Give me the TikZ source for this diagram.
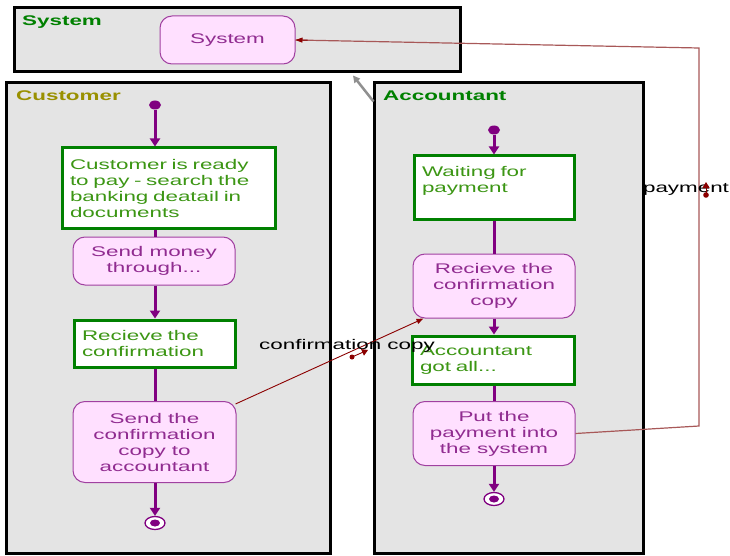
\documentclass[tikz,border=0pt]{standalone}
\usepackage{fontspec}
\setmainfont{Liberation Sans}[FakeStretch=1.6]
\usetikzlibrary{arrows.meta,shapes.geometric,calc}
\definecolor{lanefill}{HTML}{E4E4E4}
\definecolor{boxgreen}{HTML}{008000}
\definecolor{gtext}{HTML}{3C9614}
\definecolor{flowpurple}{HTML}{800080}
\definecolor{pinkfill}{HTML}{FFE0FF}
\definecolor{pinkdraw}{HTML}{A040A0}
\definecolor{ptext}{HTML}{902C90}
\definecolor{olive}{HTML}{999000}
\definecolor{darkred}{HTML}{8B0000}
\definecolor{payred}{HTML}{A85858}
\definecolor{grayarrow}{HTML}{909090}
\begin{document}
\begin{tikzpicture}[x=1pt,y=-1pt,
  font=\fontsize{14}{16}\selectfont,
  lane/.style={draw=black, line width=3pt, fill=lanefill, inner sep=0pt},
  lanelabel/.style={font=\fontsize{14}{16}\selectfont\bfseries, anchor=west, inner sep=0pt},
  act/.style={draw=pinkdraw, line width=1pt, fill=pinkfill, rounded corners=12pt, text=ptext, align=center, inner sep=0pt},
  statebox/.style={draw=boxgreen, line width=3pt, fill=white, text=gtext, align=left, inner xsep=8pt, inner ysep=0pt},
  startdot/.style={ellipse, fill=flowpurple, minimum width=12pt, minimum height=9pt, inner sep=0pt},
  enddot/.style={ellipse, draw=flowpurple, line width=1.3pt, fill=white, minimum width=20pt, minimum height=13pt, inner sep=0pt},
  enddotin/.style={ellipse, fill=flowpurple, minimum width=10pt, minimum height=7pt, inner sep=0pt},
  flow/.style={draw=flowpurple, line width=3pt},
  flowarrow/.style={flow, -{Triangle[length=8pt,width=10pt]}},
  conf/.style={draw=darkred, line width=0.9pt, -{Triangle[length=7pt,width=5pt]}},
  paycon/.style={draw=payred, line width=1.2pt},
  edgelabel/.style={text=black, inner sep=0pt}
]
\useasboundingbox (0,0) rectangle (730,556);
\fill[white] (0,0) rectangle (730,556);

% frames
\node[lane, minimum width=446pt, minimum height=64pt] (sysF) at (237,40) {};
\node[lane, minimum width=324pt, minimum height=470pt] (custF) at (168,318) {};
\node[lane, minimum width=269pt, minimum height=470pt] (accF) at (508.5,318) {};

\node[lanelabel, text=boxgreen] (sysL) at (22,22) {System};
\node[lanelabel, text=olive] (custL) at (16,96) {Customer};
\node[lanelabel, text=boxgreen] (accL) at (383,96) {Accountant};

% system node
\node[act, minimum width=135pt, minimum height=48pt] (sys) at (227.5,40) {System};

% gray arrow
\coordinate (gA) at ($(accF.north west)+(1,20)$);
\coordinate (gB) at ($(sysF.south)+(116,2)$);
\draw[grayarrow, line width=2.5pt, -{Triangle[length=7pt,width=7pt]}] (gA) -- (gB);

% customer lane
\node[startdot] (cs) at (155,105) {};
\node[statebox, text width=197pt, minimum width=213pt, minimum height=80pt] (c1) at (168.5,188)
  {Customer is ready\\to pay - search the\\banking deatail in\\documents};
\node[act, minimum width=162pt, minimum height=48pt] (c2) at (154,261) {Send money\\through...};
\node[statebox, text width=145pt, minimum width=161pt, minimum height=47pt] (c3) at (154.5,343.5)
  {Recieve the\\confirmation};
\node[act, minimum width=163pt, minimum height=81pt] (c4) at (154.5,442)
  {Send the\\confirmation\\copy to\\accountant};
\node[enddot] (ce) at (155,523) {};
\node[enddotin] (cei) at (ce) {};

\draw[flowarrow] (cs) -- (cs |- c1.north);
\draw[flow] (cs |- c1.south) -- (cs |- c2.north);
\draw[flowarrow] (cs |- c2.south) -- (cs |- c3.north);
\draw[flow] (cs |- c3.south) -- (cs |- c4.north);
\draw[flowarrow] (cs |- c4.south) -- (ce);

% accountant lane
\node[startdot] (as) at (494,130) {};
\node[statebox, text width=144pt, minimum width=160pt, minimum height=63pt] (a1) at (494,187.5)
  {Waiting for\\payment\\\mbox{}};
\node[act, minimum width=162pt, minimum height=64pt] (a2) at (494,286)
  {Recieve the\\confirmation\\copy};
\node[statebox, text width=146pt, minimum width=162pt, minimum height=48pt] (a3) at (493,360)
  {Accountant\\got all...};
\node[act, minimum width=162pt, minimum height=64pt] (a4) at (494,433.5)
  {Put the\\payment into\\the system};
\node[enddot] (ae) at (494,499) {};
\node[enddotin] (aei) at (ae) {};

\draw[flowarrow] (as) -- (as |- a1.north);
\draw[flow] (as |- a1.south) -- (as |- a2.north);
\draw[flowarrow] (as |- a2.south) -- (as |- a3.north);
\draw[flow] (as |- a3.south) -- (as |- a4.north);
\draw[flowarrow] (as |- a4.south) -- (ae);

% confirmation copy connector
\draw[conf] ($(c4.north east)+(-1,3)$) -- ($(a2.south west)+(11,0)$);
\node[edgelabel] (confL) at (347,346) {confirmation copy};
\coordinate (cm1) at (352,357);
\coordinate (cm2) at (368,350);
\fill[darkred] (cm1) circle (2.5pt);
\draw[darkred, line width=0.9pt, -{Triangle[length=6pt,width=7pt]}] (cm1) -- (cm2);

% payment connector
\coordinate (p1) at (699,426);
\coordinate (p2) at (699,48);
\draw[paycon] (a4.east) -- (p1) -- (p2) -- (sys.east);
\draw[darkred, line width=0.9pt, -{Triangle[length=7pt,width=5pt]}] ($(sys.east)+(12,0.2)$) -- (sys.east);
\node[edgelabel] (payL) at (686,189) {payment};
\coordinate (pm1) at (706,195);
\coordinate (pm2) at (706,182);
\fill[darkred] (pm1) circle (2.8pt);
\draw[darkred, line width=1pt, -{Triangle[length=6pt,width=7pt]}] (pm1) -- (pm2);
\end{tikzpicture}
\end{document}
